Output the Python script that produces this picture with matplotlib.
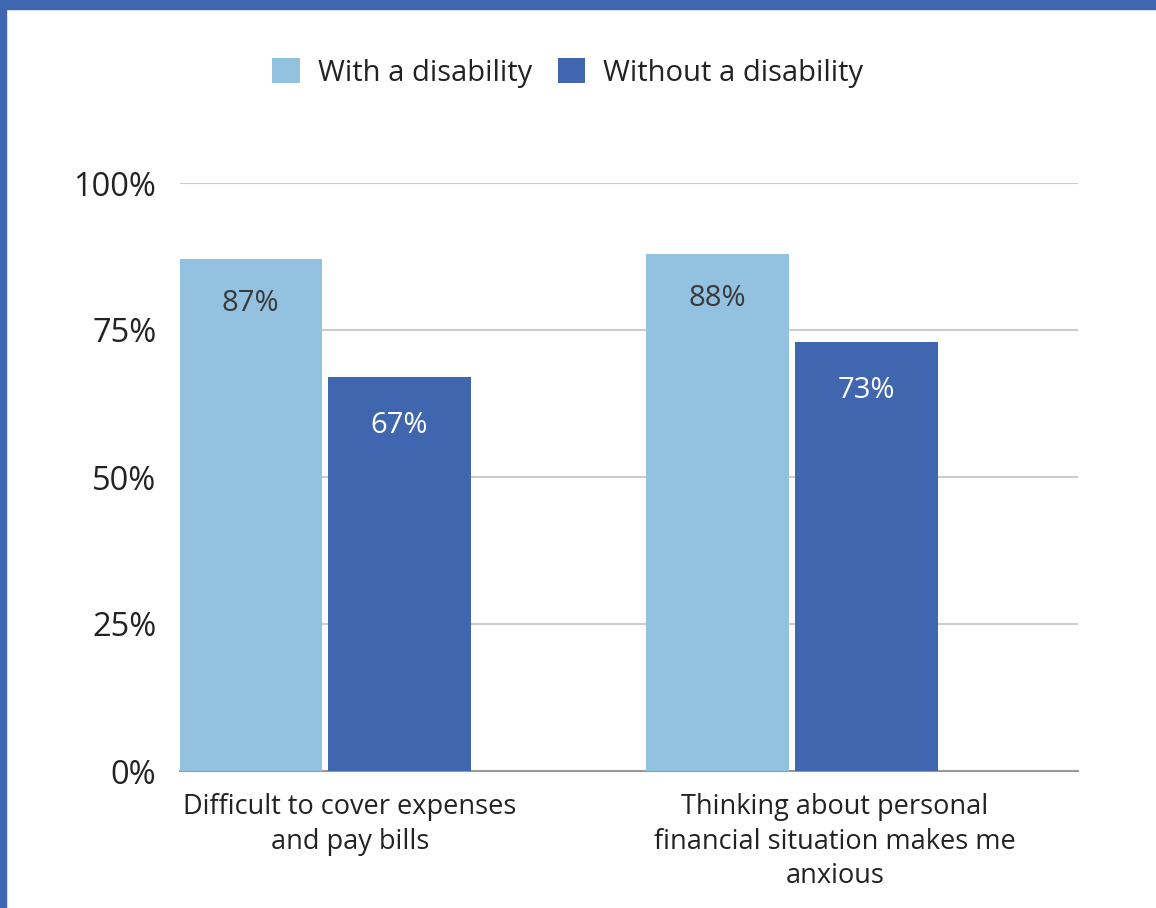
import matplotlib
matplotlib.use("Agg")
import matplotlib.pyplot as plt
from matplotlib.patches import Rectangle
import matplotlib.transforms as mtransforms
import numpy as np

categories = ["Difficult to cover expenses\nand pay bills",
              "Thinking about personal\nfinancial situation makes me\nanxious"]
series_names = ["With a disability", "Without a disability"]
with_disability = [87, 88]
without_disability = [67, 73]
yticks = [0, 25, 50, 75, 100]
ytick_labels = ["0%", "25%", "50%", "75%", "100%"]

light = "#92C2E0"
dark = "#4066B0"
border = "#3F67B1"

plt.rcParams['font.family'] = ['Open Sans', 'DejaVu Sans']

fig = plt.figure(figsize=(11.56, 9.08), dpi=100)
fig.patch.set_facecolor("white")
# border strips (top and left)
fig.add_artist(Rectangle((0, 1 - 9/908), 1, 9/908, transform=fig.transFigure,
                         color=border, zorder=10))
fig.add_artist(Rectangle((0, 0), 6/1156, 1, transform=fig.transFigure,
                         color=border, zorder=10))

ax = fig.add_axes([180/1156, (908-771)/908, (1078-180)/1156, (771-183)/908])

x = np.arange(len(categories))
w = 0.306
gap = 0.006
b1 = ax.bar(x - w/2 - gap, with_disability, w, color=light, label=series_names[0], zorder=3)
b2 = ax.bar(x + w/2 + gap, without_disability, w, color=dark, label=series_names[1], zorder=3)

for rect, v in zip(b1, with_disability):
    ax.annotate(f"{v}%", (rect.get_x() + rect.get_width()/2, v),
                xytext=(0, -32), textcoords="offset points", ha="center", va="center",
                fontsize=21, color="#3a3a3a", zorder=4)
for rect, v in zip(b2, without_disability):
    ax.annotate(f"{v}%", (rect.get_x() + rect.get_width()/2, v),
                xytext=(0, -35), textcoords="offset points", ha="center", va="center",
                fontsize=21, color="white", zorder=4)

ax.set_xlim(-0.31, 1.612)
ax.set_ylim(0, 100)
ax.set_yticks(yticks)
ax.set_yticklabels(ytick_labels, fontsize=23.5, color="#222222")
ax.yaxis.grid(True, color="#cccccc", linewidth=1.5, zorder=0)
ax.set_axisbelow(True)
for s in ["left", "right", "top"]:
    ax.spines[s].set_visible(False)
ax.spines["bottom"].set_color("#999999")
ax.spines["bottom"].set_linewidth(1.5)
ax.tick_params(axis="y", length=0, pad=17)
ax.tick_params(axis="x", length=0, pad=16)
ax.set_xticks(x)
ax.set_xticklabels(categories, fontsize=19.5, color="#222222", linespacing=1.3)
# the category labels sit slightly right of the bar-group centres
for lbl, dx in zip(ax.get_xticklabels(), [25, 43]):
    lbl.set_transform(lbl.get_transform() +
                      mtransforms.ScaledTranslation(dx / 100, 0, fig.dpi_scale_trans))

leg = fig.legend(handles=[b1, b2], labels=series_names, loc="center",
                 bbox_to_anchor=(568/1156, 1 - 73/908), ncol=2, frameon=False,
                 fontsize=21, handlelength=0.95, handleheight=0.95, columnspacing=0.86,
                 handletextpad=0.62)
for t in leg.get_texts():
    t.set_color("#222222")

fig.savefig("out.png", dpi=100, facecolor="white")
